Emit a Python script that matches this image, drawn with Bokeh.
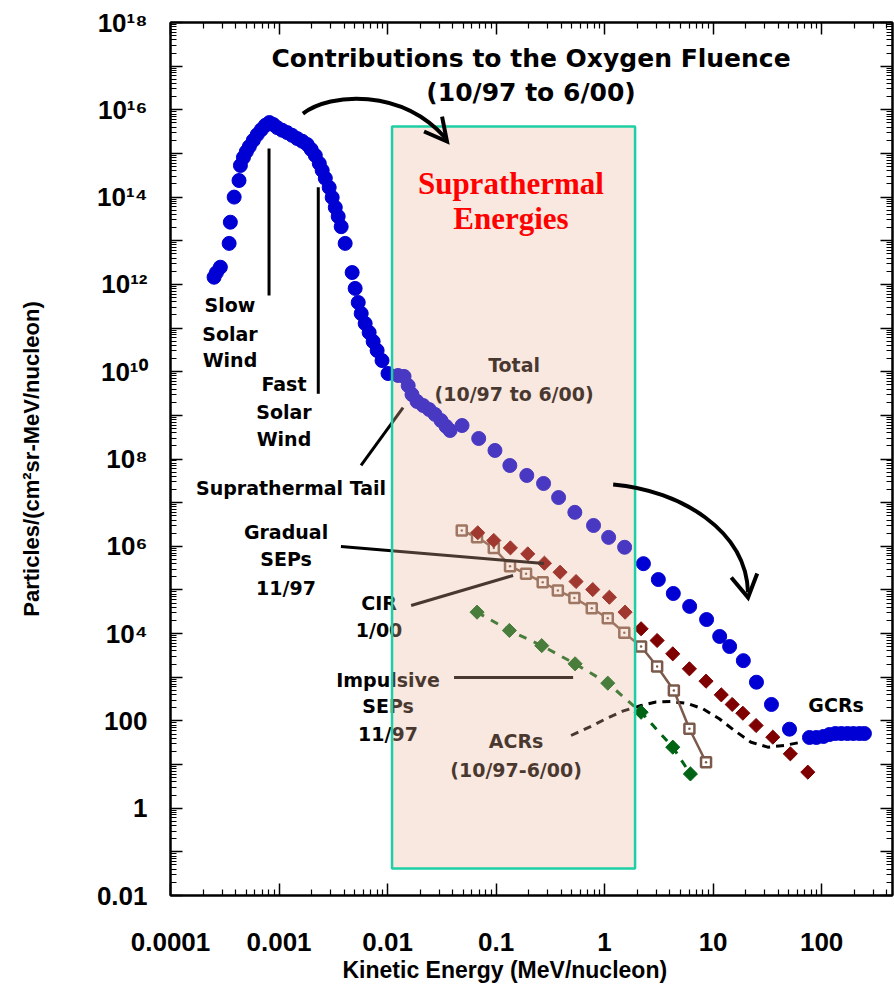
import json
from bokeh.plotting import figure
from bokeh.models import Range1d, FixedTicker, CustomJSTickFormatter, LogAxis, Title
from bokeh.core.properties import value
from bokeh.embed import file_html
from bokeh.resources import INLINE

# ---------------- data ----------------
total_energy = [
    2.52e-4, 2.65e-4, 2.88e-4, 3.47e-4, 3.56e-4, 3.86e-4, 4.28e-4, 4.41e-4,
    4.70e-4, 5.00e-4, 5.33e-4, 5.80e-4, 6.30e-4, 6.87e-4, 7.48e-4, 8.15e-4,
    8.87e-4, 9.65e-4, 1.07e-3, 1.19e-3, 1.32e-3, 1.47e-3, 1.64e-3, 1.82e-3,
    1.98e-3, 2.16e-3, 2.35e-3, 2.50e-3, 2.67e-3, 2.90e-3, 3.09e-3, 3.30e-3,
    3.51e-3, 3.74e-3, 4.07e-3, 4.72e-3, 5.03e-3, 5.37e-3, 5.72e-3, 6.22e-3,
    6.77e-3, 7.37e-3, 8.02e-3, 8.9e-3, 1.01e-2, 1.25e-2, 1.42e-2, 1.55e-2,
    1.68e-2, 1.87e-2, 2.13e-2, 2.42e-2, 2.74e-2, 3.11e-2, 3.46e-2, 3.77e-2,
    4.86e-2, 6.92e-2, 9.77e-2, 0.134, 0.192, 0.274, 0.377, 0.532, 0.791, 1.09, 1.53,
    2.28, 3.13, 4.3, 6.08, 8.71, 11.5, 14.2, 19.0, 25.1, 34.5, 50.6, 77.3,
    89.5, 104, 118, 134, 152, 173, 196, 223, 248]
total_fluence = [
    1.46e12, 1.86e12, 2.48e12, 8.7e12, 2.66e13, 1.0e14, 2.4e14, 5.3e14,
    8.1e14, 1.1e15, 1.44e15, 2.0e15, 2.7e15, 3.5e15, 4.4e15, 5.1e15,
    4.6e15, 3.9e15, 3.4e15, 3.0e15, 2.6e15, 2.2e15, 1.9e15, 1.6e15,
    1.23e15, 9.0e14, 5.9e14, 4.1e14, 2.7e14, 1.66e14, 9.8e13, 5.8e13,
    3.6e13, 2.1e13, 8.7e12, 1.87e12, 8.1e11, 3.85e11, 2.15e11, 1.27e11,
    7.9e10, 4.9e10, 3.06e10, 1.8e10, 9.1e9, 8.2e9, 7.8e9, 4.8e9,
    3.0e9, 2.08e9, 1.68e9, 1.36e9, 1.05e9, 7.6e8, 5.6e8, 4.5e8,
    5.85e8, 2.95e8, 1.57e8, 7.1e7, 4.2e7, 2.75e7, 1.31e7, 6.0e6, 3.0e6, 1.6e6, 9.5e5,
    4.0e5, 1.73e5, 8.3e4, 4.2e4, 2.1e4, 8.6e3, 5.06e3, 2.4e3, 770, 238, 64.6, 41.7,
    41.7, 44, 48.7, 51.4, 51.4, 51.4, 51.4, 51.4, 51.4]

gradual_energy = [0.0678, 0.0953, 0.1355, 0.196, 0.279, 0.389, 0.546, 0.778, 1.107,
                  1.545, 2.17, 3.05, 4.25, 6.05, 8.61, 11.9, 15.0, 18.8, 24.9, 35.5,
                  51.5, 74.6]
gradual_fluence = [2.04e6, 1.36e6, 9.2e5, 6.7e5, 4.1e5, 2.55e5, 1.56e5, 1.02e5, 6.8e4,
                   3.1e4, 1.29e4, 6.95e3, 3.44e3, 1.56e3, 813, 395, 238, 150, 78.5,
                   42.4, 17.6, 6.7]

cir_energy = [0.0483, 0.0668, 0.0953, 0.1345, 0.189, 0.269, 0.371, 0.527, 0.762,
              1.07, 1.52, 2.17, 3.05, 4.35, 6.05, 8.61]
cir_fluence = [2.3e6, 1.61e6, 9.2e5, 3.5e5, 2.34e5, 1.5e5, 9.7e4, 6.5e4, 3.8e4,
               2.25e4, 1.04e4, 5.06e3, 1.76e3, 497, 65.9, 11.3]

impulsive_energy = [0.0668, 0.1327, 0.2636, 0.535, 1.07, 2.17, 4.25, 6.18]
impulsive_fluence = [3.1e4, 1.18e4, 5.3e3, 2.03e3, 731, 158, 25, 6.1]

acr_energy = [0.491, 0.724, 1.03, 1.47, 2.17, 2.98, 4.1, 5.85, 8.04, 11.4, 15.7,
              22.4, 31.9, 45.1, 64.7]
acr_fluence = [46.3, 71.8, 112, 167, 225, 271, 278, 250, 189, 112, 60.3, 32.5,
               25, 27.3, 32.5]

x_tick_exponents = [-4, -3, -2, -1, 0, 1, 2]
x_tick_labels = ["0.0001", "0.001", "0.01", "0.1", "1", "10", "100"]
y_tick_exponents = [18, 16, 14, 12, 10, 8, 6, 4, 2, 0, -2]
y_tick_labels = ["10¹⁸", "10¹⁶", "10¹⁴", "10¹²", "10¹⁰", "10⁸", "10⁶", "10⁴",
                 "100", "1", "0.01"]

# suprathermal energy band
band_energy = [0.011, 1.91]
band_fluence = [0.0415, 4.14e15]

# ---------------- figure ----------------
p = figure(width=894, height=990, x_axis_type="log", y_axis_type="log",
           x_range=Range1d(1e-4, 450), y_range=Range1d(1e-2, 1e18),
           output_backend="svg", toolbar_location=None,
           min_border_left=170, min_border_right=2, min_border_top=22,
           min_border_bottom=95)
p.xgrid.visible = False
p.ygrid.visible = False
p.outline_line_color = "black"
p.outline_line_width = 2
p.background_fill_color = "white"
p.border_fill_color = "white"

x_major = [10.0 ** d for d in range(-4, 3)]
x_minor = [k * 10.0 ** d for d in range(-4, 3) for k in range(2, 10) if k * 10.0 ** d < 450]
y_major = [10.0 ** d for d in range(-2, 19)]
y_minor = [k * 10.0 ** d for d in range(-2, 18) for k in range(2, 10)]


def make_formatter(exps, labels):
    mapping = {str(e): l for e, l in zip(exps, labels)}
    code = ("const m = %s; const e = Math.round(Math.log10(tick)); "
            "const s = m[String(e)]; return (s === undefined) ? '' : s;") % json.dumps(mapping)
    return CustomJSTickFormatter(code=code)


blank = CustomJSTickFormatter(code="return '';")


def style_axis(ax):
    ax.major_tick_in = 12
    ax.major_tick_out = 0
    ax.minor_tick_in = 6
    ax.minor_tick_out = 0
    ax.major_tick_line_width = 1.5
    ax.minor_tick_line_width = 1.2
    ax.major_tick_line_color = "black"
    ax.minor_tick_line_color = "black"
    ax.axis_line_width = 2
    ax.axis_line_color = "black"
    ax.major_label_text_font = "Liberation Sans"
    ax.major_label_text_font_style = "bold"
    ax.major_label_text_font_size = "26px"
    ax.major_label_text_color = "black"


xa = p.xaxis[0]
xa.ticker = FixedTicker(ticks=x_major, minor_ticks=x_minor)
xa.formatter = make_formatter(x_tick_exponents, x_tick_labels)
style_axis(xa)
xa.major_label_standoff = 37

ya = p.yaxis[0]
ya.ticker = FixedTicker(ticks=y_major, minor_ticks=y_minor)
ya.formatter = make_formatter(y_tick_exponents, y_tick_labels)
style_axis(ya)
ya.major_label_standoff = 23
ya.axis_label = "Particles/(cm²sr-MeV/nucleon)"
ya.axis_label_text_font = "Liberation Sans"
ya.axis_label_text_font_style = "bold"
ya.axis_label_text_font_size = "22px"
ya.axis_label_text_color = "black"
ya.axis_label_standoff = 50

top_ax = LogAxis(ticker=FixedTicker(ticks=x_major, minor_ticks=x_minor), formatter=blank)
right_ax = LogAxis(ticker=FixedTicker(ticks=y_major, minor_ticks=y_minor), formatter=blank)
for ax in (top_ax, right_ax):
    style_axis(ax)
    ax.major_label_text_font_size = "1px"
    ax.major_label_standoff = 0
p.add_layout(top_ax, "above")
p.add_layout(right_ax, "right")

# x-axis title (offset to the left of centre, as in the reference)
p.add_layout(Title(text="Kinetic Energy (MeV/nucleon)", align="left", offset=172,
                   vertical_align="top",
                   text_font="Liberation Sans", text_font_style="bold",
                   text_font_size="23px", text_color="black", standoff=7), "below")

# ---------------- series ----------------
blue = "#0000D4"
dred = "#7F0000"
dgreen = "#006414"
brown = "#7B5A4B"

p.line(acr_energy, acr_fluence, line_color="black", line_width=3, line_dash="8 6")

p.line(impulsive_energy, impulsive_fluence, line_color=dgreen, line_width=3, line_dash="8 8")
p.scatter(impulsive_energy, impulsive_fluence, marker="square", angle=0.785398,
          size=10, fill_color=dgreen, line_color=dgreen)

p.line(cir_energy, cir_fluence, line_color=brown, line_width=2.5)
p.scatter(cir_energy, cir_fluence, marker="square_dot", size=10,
          fill_color="white", line_color=brown, line_width=2.5)

p.scatter(gradual_energy, gradual_fluence, marker="square", angle=0.785398,
          size=10, fill_color=dred, line_color=dred)

p.scatter(total_energy, total_fluence, marker="circle", size=14,
          fill_color=blue, line_color=blue)

# ---------------- annotations under the band ----------------
ann_font = value("DejaVu Sans")
pointer_lines = [
    ([8.09e-4, 8.09e-4], [1.3e15, 5.57e11]),
    ([2.3e-3, 2.3e-3], [1.69e14, 3.12e9]),
    ([5.7e-3, 1.39e-2], [7.1e7, 1.51e9]),
    ([3.72e-3, 0.277], [9.9e5, 4.04e5]),
    ([1.65e-2, 0.1435], [4.4e4, 2.14e5]),
    ([0.041, 0.513], [986, 986]),
]
p.multi_line([l[0] for l in pointer_lines], [l[1] for l in pointer_lines],
             line_color="black", line_width=3)

notes = [
    ("Slow", 3.53e-4, 3.29e11), ("Solar", 3.53e-4, 7.5e10), ("Wind", 3.53e-4, 1.81e10),
    ("Fast", 1.11e-3, 5.36e9), ("Solar", 1.11e-3, 1.22e9), ("Wind", 1.11e-3, 2.8e8),
    ("Suprathermal Tail", 1.29e-3, 2.22e7),
    ("Gradual", 1.16e-3, 2.18e6), ("SEPs", 1.16e-3, 4.99e5), ("11/97", 1.16e-3, 1.08e5),
    ("CIR", 8.35e-3, 4.9e4), ("1/00", 8.35e-3, 1.18e4),
    ("Impulsive", 1.01e-2, 887), ("SEPs", 1.01e-2, 216), ("11/97", 1.01e-2, 51.4),
    ("Total", 0.1466, 1.39e10), ("(10/97 to 6/00)", 0.1466, 3.16e9),
    ("ACRs", 0.153, 34), ("(10/97-6/00)", 0.153, 7.7),
    ("GCRs", 136, 228),
]
p.text(x=[n[1] for n in notes], y=[n[2] for n in notes], text=[n[0] for n in notes],
       text_font=ann_font, text_font_style="bold", text_font_size="19px",
       text_align="center", text_baseline="middle", text_color="black")

# ---------------- suprathermal band (translucent overlay + border) ----------------
p.quad(left=[band_energy[0]], right=[band_energy[1]],
       bottom=[band_fluence[0]], top=[band_fluence[1]],
       fill_color="#EBB499", fill_alpha=0.31, line_color=None)
p.quad(left=[band_energy[0]], right=[band_energy[1]],
       bottom=[band_fluence[0]], top=[band_fluence[1]],
       fill_color=None, line_color="#1ECFA5", line_width=2.5)

p.text(x=[0.137, 0.137], y=[2.05e14, 3.24e13], text=["Suprathermal", "Energies"],
       text_font=value("Liberation Serif"), text_font_style="bold",
       text_font_size="31px", text_align="center", text_baseline="middle",
       text_color="#FF0000")

p.text(x=[0.21, 0.21], y=[1.5e17, 2.5e16],
       text=["Contributions to the Oxygen Fluence", "(10/97 to 6/00)"],
       text_font=ann_font, text_font_style="bold", text_font_size="25px",
       text_align="center", text_baseline="middle", text_color="black")

# ---------------- curved arrows ----------------
p.bezier(x0=[1.66e-3, 1.2], y0=[8.2e15, 2.6e7],
         x1=[3.39e-2, 21.0], y1=[2.32e15, 8.75e4],
         cx0=[3.01e-3, 5.07], cy0=[2.49e16, 1.9e7],
         cx1=[1.33e-2, 20.1], cy1=[3.08e16, 2.3e6],
         line_color="black", line_width=4)
p.multi_line([[2.17e-2, 3.53e-2, 3.18e-2], [14.7, 21.0, 25.5]],
             [[3.19e15, 1.88e15, 7.0e15], [1.93e5, 6.7e4, 2.38e5]],
             line_color="black", line_width=4, line_join="miter")

open("out.html", "w").write(file_html(p, INLINE))
